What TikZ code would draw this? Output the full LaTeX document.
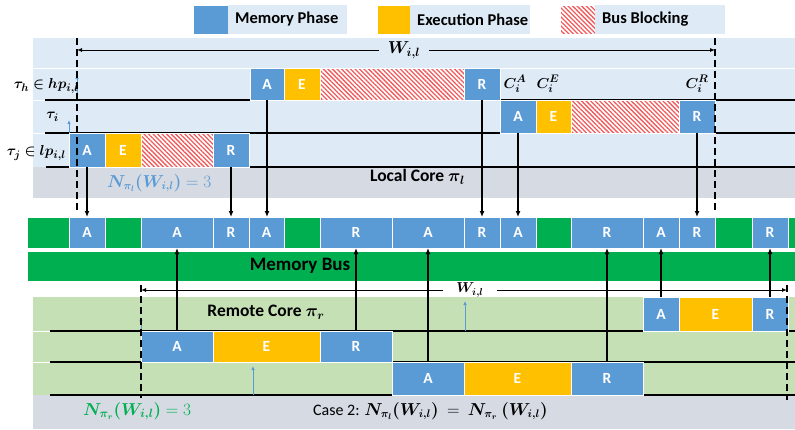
\documentclass[tikz,border=0pt]{standalone}
\usepackage{amsmath}
\usepackage{bm}
\usepackage{fontspec}
\setmainfont{Carlito}
\usetikzlibrary{arrows.meta,patterns.meta,positioning}
\definecolor{memblue}{HTML}{5B9BD5}
\definecolor{exeyellow}{HTML}{FFC000}
\definecolor{busgreen}{HTML}{00B050}
\definecolor{lightblue}{HTML}{DEEBF7}
\definecolor{lightgreen}{HTML}{C5E0B4}
\definecolor{coregray}{HTML}{D5DAE3}
\definecolor{hatchred}{HTML}{F05A5A}
% Phasenblock: Name, x1, x2, y1, y2, Text
\newcommand{\seg}[7][]{\node[seg,#1,minimum width={(#4-#3)*1pt},minimum height={(#6-#5)*1pt}] (#2) at ({(#3+#4)/2},{(#5+#6)/2}) {#7};}
\begin{document}
\begin{tikzpicture}[x=1pt,y=-1pt,>={Latex[length=6pt,width=5pt]},
	seg/.style={draw=white,line width=0.5pt,inner sep=0pt,outer sep=0pt,text=white,font=\bfseries\fontsize{15.5}{17}\selectfont},
	mem/.style={fill=memblue},
	exe/.style={fill=exeyellow},
	blocking/.style={preaction={fill=white},pattern={Lines[angle=-45,distance=3.2pt,line width=1.3pt]},pattern color=hatchred},
	idle/.style={fill=busgreen},
	legbg/.style={fill=lightblue,minimum height=29pt,inner sep=0pt,outer sep=0pt},
	legtext/.style={anchor=west,inner sep=0pt,font=\bfseries\fontsize{16.5}{18}\selectfont},
	lane/.style={line width=1.1pt},
	conn/.style={->,line width=1.4pt},
	span/.style={->,line width=0.9pt,>={Latex[length=5pt,width=4pt]}},
	rel/.style={->,memblue,line width=0.8pt,>={Latex[length=4pt,width=3.5pt]}},
	bound/.style={line width=1.3pt,dash pattern=on 7pt off 4pt},
	lbl/.style={font=\bfseries\fontsize{15}{17}\selectfont,inner sep=1pt}]
	\useasboundingbox (0,0) rectangle (795,429);
	% Legende
	\node[seg,mem,minimum width=35pt,minimum height=29pt] (legmem) at (210.5,19.5) {};
	\node[legbg,right=0pt of legmem,minimum width=119pt] (legmembg) {};
	\node[legtext] (legmemtxt) at ([xshift=7pt]legmembg.west) {Memory Phase};
	\node[seg,exe,minimum width=33pt,minimum height=29pt] (legexe) at (393.5,19.5) {};
	\node[legbg,right=0pt of legexe,minimum width=120pt] (legexebg) {};
	\node[legtext] (legexetxt) at ([xshift=7pt]legexebg.west) {Execution Phase};
	\node[seg,blocking,minimum width=35pt,minimum height=29pt] (legblk) at (577.5,19.5) {};
	\node[legbg,right=0pt of legblk,minimum width=130pt] (legblkbg) {};
	\node[legtext] (legblktxt) at ([xshift=7pt]legblkbg.west) {Bus Blocking};
	% Lokaler Kern
	\fill[lightblue] (33,38) rectangle (795,167);
	\fill[coregray] (33,167) rectangle (795,198);
	\draw[white,line width=1pt] (33,68) -- (795,68);
	\draw[white,line width=1pt] (33,100) -- (795,100);
	\draw[white,line width=1pt] (33,133) -- (795,133);
	\draw[lane] (45,100) -- (795,100);
	\draw[lane] (45,133) -- (795,133);
	\draw[lane] (46,167) -- (795,167);
	\seg[mem]{hA}{250}{284}{68}{100}{A}
	\seg[exe]{hE}{284}{320}{68}{100}{E}
	\seg[blocking]{hB}{320}{464}{68}{100}{}
	\seg[mem]{hR}{464}{500}{68}{100}{R}
	\seg[mem]{iA}{500}{536}{100}{133}{A}
	\seg[exe]{iE}{536}{571}{100}{133}{E}
	\seg[blocking]{iB}{571}{679}{100}{133}{}
	\seg[mem]{iR}{679}{715}{100}{133}{R}
	\seg[mem]{jA}{69}{105}{133}{167}{A}
	\seg[exe]{jE}{105}{141}{133}{167}{E}
	\seg[blocking]{jB}{141}{213}{133}{167}{}
	\seg[mem]{jR}{213}{249}{133}{167}{R}
	\node[lbl,anchor=east] (th) at (80,86) {$\bm{\tau_h \in hp_{i,l}}$};
	\node[lbl,anchor=east] (ti) at (60,117) {$\bm{\tau_i}$};
	\node[lbl,anchor=east] (tj) at (67,153) {$\bm{\tau_j \in lp_{i,l}}$};
	\node[lbl,inner sep=0pt] (cA) at (515,84) {$\bm{C_i^A}$};
	\node[lbl,inner sep=0pt] (cE) at (548,84) {$\bm{C_i^E}$};
	\node[lbl,inner sep=0pt] (cR) at (697,84) {$\bm{C_i^R}$};
	\node[lbl,anchor=west,text=memblue,font=\fontsize{16}{18}\selectfont] (nl) at (106,183) {$\bm{N_{\pi_l}(W_{i,l})} = 3$};
	\node[lbl,anchor=east,font=\bfseries\fontsize{17.5}{19}\selectfont] (local) at (466,177) {Local Core $\bm{\pi_l}$};
	% Bus
	\seg[idle]{g1}{27}{69}{217}{248}{}
	\seg[mem]{bA1}{69}{105}{217}{248}{A}
	\seg[idle]{g2}{105}{141}{217}{248}{}
	\seg[mem]{bA2}{141}{213}{217}{248}{A}
	\seg[mem]{bR1}{213}{249}{217}{248}{R}
	\seg[mem]{bA3}{249}{284}{217}{248}{A}
	\seg[idle]{g3}{284}{320}{217}{248}{}
	\seg[mem]{bR2}{320}{392}{217}{248}{R}
	\seg[mem]{bA4}{392}{464}{217}{248}{A}
	\seg[mem]{bR3}{464}{500}{217}{248}{R}
	\seg[mem]{bA5}{500}{536}{217}{248}{A}
	\seg[idle]{g4}{536}{571}{217}{248}{}
	\seg[mem]{bR4}{571}{643}{217}{248}{R}
	\seg[mem]{bA6}{643}{679}{217}{248}{A}
	\seg[mem]{bR5}{679}{715}{217}{248}{R}
	\seg[idle]{g5}{715}{752}{217}{248}{}
	\seg[mem]{bR6}{752}{788}{217}{248}{R}
	\seg[idle]{g6}{788}{796}{217}{248}{}
	\seg[idle]{bus}{27}{796}{251}{281}{}
	\node[lbl,font=\bfseries\fontsize{19}{21}\selectfont] (buslbl) at (300,266) {Memory Bus};
	% Entfernter Kern
	\fill[lightgreen] (33,297) rectangle (795,395);
	\fill[coregray] (33,395) rectangle (795,429);
	\draw[white,line width=1pt] (33,331) -- (795,331);
	\draw[white,line width=1pt] (33,362) -- (795,362);
	\draw[lane] (50,331) -- (795,331);
	\draw[lane] (50,362) -- (795,362);
	\draw[lane] (50,395) -- (795,395);
	\seg[mem]{rA1}{643}{679}{297}{331}{A}
	\seg[exe]{rE1}{679}{752}{297}{331}{E}
	\seg[mem]{rR1}{752}{788}{297}{331}{R}
	\seg[mem]{rA2}{141}{213}{331}{362}{A}
	\seg[exe]{rE2}{213}{320}{331}{362}{E}
	\seg[mem]{rR2}{320}{392}{331}{362}{R}
	\seg[mem]{rA3}{392}{464}{362}{395}{A}
	\seg[exe]{rE3}{464}{571}{362}{395}{E}
	\seg[mem]{rR3}{571}{643}{362}{395}{R}
	\node[lbl,font=\bfseries\fontsize{17.5}{19}\selectfont] (remote) at (266,312) {Remote Core $\bm{\pi_r}$};
	\node[lbl,anchor=west,text=busgreen,font=\fontsize{16.5}{18}\selectfont] (nr) at (82,411) {$\bm{N_{\pi_r}(W_{i,l})} = 3$};
	\node[lbl,anchor=west,font=\fontsize{16}{18}\selectfont] (case) at (312,411) {Case 2: $\bm{N_{\pi_l}(W_{i,l})}\ =\ \bm{N_{\pi_r}}\ \bm{(W_{i,l})}$};
	% Zugriffe auf den Bus
	\foreach \from/\to in {jA/bA1,jR/bR1,hA/bA3,hR/bR3,iA/bA5,iR/bR5}
		\draw[conn] (\from.south) -- (\from.south |- \to.north);
	\foreach \from/\to in {rA2/bA2,rR2/bR2,rA3/bA4,rR3/bR4,rA1/bA6,rR1/bR6}
		\draw[conn] (\from.north) -- (\from.north |- \to.south);
	% Freigaben
	\coordinate (rel1) at (77,100);
	\coordinate (rel2) at (69,133);
	\coordinate (rel3) at (141,331);
	\coordinate (rel4) at (465,331);
	\coordinate (rel5) at (253,395);
	\draw[rel] (rel1) -- ++(0,-25);
	\draw[rel] (rel2) -- ++(0,-13);
	\draw[rel] (rel3) -- ++(0,-14);
	\draw[rel] (rel4) -- ++(0,-30);
	\draw[rel] (rel5) -- ++(0,-29);
	% Fenster W
	\coordinate (topL) at (77,38);
	\coordinate (topR) at (715,38);
	\coordinate (botL) at (141,285);
	\coordinate (botR) at (787,285);
	\draw[bound] (topL) -- ++(0,172);
	\draw[bound] (topR) -- ++(0,172);
	\draw[bound] (botL) -- ++(0,113);
	\draw[bound] (botR) -- ++(0,115);
	\node[lbl,inner xsep=9pt,font=\fontsize{17}{19}\selectfont] (Wtop) at (404,50) {$\bm{W_{i,l}}$};
	\draw[span] (Wtop.west) -- (topL |- Wtop.west);
	\draw[span] (Wtop.east) -- (topR |- Wtop.east);
	\node[lbl,inner xsep=13pt,font=\fontsize{14}{16}\selectfont] (Wbot) at (470,290) {$\bm{W_{i,l}}$};
	\draw[span] (Wbot.west) -- (botL |- Wbot.west);
	\draw[span] (Wbot.east) -- (botR |- Wbot.east);
\end{tikzpicture}
\end{document}
